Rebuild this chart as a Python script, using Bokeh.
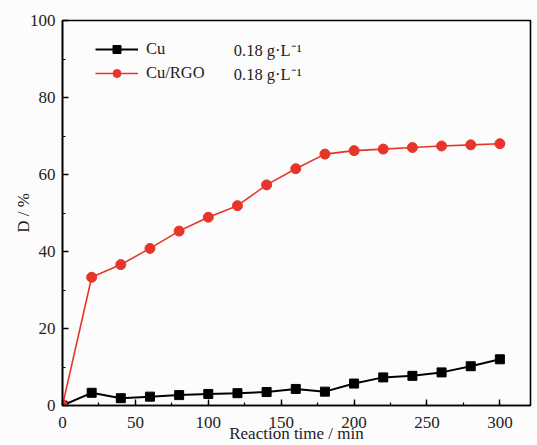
from bokeh.plotting import figure
from bokeh.models import (Range1d, SingleIntervalTicker, Legend, LegendItem, Label)
from bokeh.embed import file_html
from bokeh.resources import INLINE

time_min = [0, 20, 40, 60, 80, 100, 120, 140, 160, 180, 200, 220, 240, 260, 280, 300]
cu = [0, 3.3, 1.9, 2.3, 2.7, 3.0, 3.2, 3.5, 4.3, 3.6, 5.7, 7.3, 7.7, 8.6, 10.2, 12.0]
cu_rgo = [0, 33.3, 36.6, 40.8, 45.3, 48.9, 51.9, 57.3, 61.5, 65.3, 66.2, 66.6, 67.0, 67.4, 67.7, 68.0]
labels = ["Cu", "Cu/RGO"]
conc = ["0.18 g·L⁻¹", "0.18 g·L⁻¹"]

FONT = "Liberation Serif"
RED = "#e8352a"
TXT = "#222222"

p = figure(width=537, height=445, output_backend="svg", toolbar_location=None,
           x_range=Range1d(0, 321), y_range=Range1d(0, 100),
           min_border_left=62, min_border_right=7, min_border_top=20, min_border_bottom=39,
           background_fill_color="#fcfcfd", border_fill_color="#fcfcfd")
p.grid.visible = False
p.outline_line_color = "black"
p.outline_line_width = 1.6

for ax in (p.xaxis[0], p.yaxis[0]):
    ax.axis_line_width = 1.6
    ax.axis_line_color = "black"
    ax.major_tick_in = 6
    ax.major_tick_out = 0
    ax.minor_tick_in = 3
    ax.minor_tick_out = 0
    ax.major_tick_line_width = 1.4
    ax.minor_tick_line_width = 1.2
    ax.major_label_text_font = FONT
    ax.major_label_text_font_size = "17px"
    ax.major_label_text_color = TXT
    ax.axis_label_text_font = FONT
    ax.axis_label_text_font_size = "17px"
    ax.axis_label_text_font_style = "normal"
    ax.axis_label_text_color = TXT

p.xaxis.ticker = SingleIntervalTicker(interval=50, num_minor_ticks=2)
p.yaxis.ticker = SingleIntervalTicker(interval=20, num_minor_ticks=2)
p.xaxis.axis_label = "Reaction time / min"
p.yaxis.axis_label = "D / %"
p.xaxis.major_label_standoff = 11
p.yaxis.major_label_standoff = 7
p.xaxis.axis_label_standoff = -7
p.yaxis.axis_label_standoff = -6

l1 = p.line(time_min, cu, line_color="black", line_width=2)
s1 = p.scatter(time_min, cu, marker="square", size=9, fill_color="black", line_color="black")
l2 = p.line(time_min, cu_rgo, line_color=RED, line_width=1.6)
s2 = p.scatter(time_min, cu_rgo, marker="circle", size=10, fill_color=RED, line_color=RED)

legend = Legend(items=[LegendItem(label=labels[0], renderers=[l1, s1]),
                       LegendItem(label=labels[1], renderers=[l2, s2])],
                location=(33, 322), padding=0, margin=0, spacing=4,
                glyph_width=43, glyph_height=20, label_height=20, label_standoff=8,
                label_text_font=FONT, label_text_font_size="16.5px",
                label_text_color=TXT,
                border_line_color=None, background_fill_alpha=0)
p.add_layout(legend, "center")

for yv, t in zip([92.2, 86.0], conc):
    p.add_layout(Label(x=117.5, y=yv, text=t, text_font=FONT, text_font_size="16.5px",
                       text_baseline="middle", text_color=TXT))

open("out.html", "w").write(file_html(p, INLINE))
